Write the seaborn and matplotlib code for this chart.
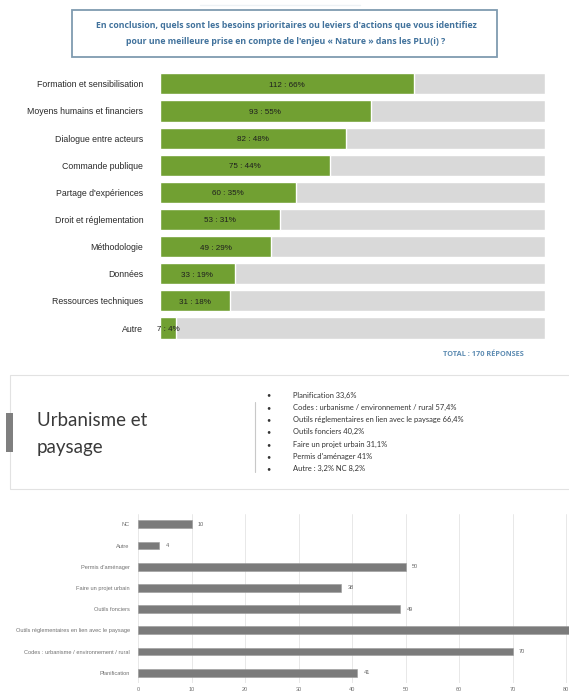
import matplotlib
matplotlib.use("Agg")
import matplotlib.pyplot as plt
from matplotlib.patches import Rectangle
import pandas as pd
import seaborn as sns

# ---- Data -------------------------------------------------------------
levers = ["Formation et sensibilisation", "Moyens humains et financiers",
          "Dialogue entre acteurs", "Commande publique",
          "Partage d'expériences", "Droit et réglementation",
          "Méthodologie", "Données", "Ressources techniques", "Autre"]
lever_counts = [112, 93, 82, 75, 60, 53, 49, 33, 31, 7]
total_responses = 170

tools = ["NC", "Autre", "Permis d'aménager", "Faire un projet urbain",
         "Outils fonciers", "Outils réglementaires en lien avec le paysage",
         "Codes : urbanisme / environnement / rural", "Planification"]
tool_counts = [10, 4, 50, 38, 49, 81, 70, 41]
tool_ticks = [0, 10, 20, 30, 40, 50, 60, 70, 80]

bullets = ["Planification 33,6%",
           "Codes : urbanisme / environnement / rural 57,4%",
           "Outils réglementaires en lien avec le paysage 66,4%",
           "Outils fonciers 40,2%",
           "Faire un projet urbain 31,1%",
           "Permis d'aménager 41%",
           "Autre : 3,2% NC 8,2%"]

question = ("En conclusion, quels sont les besoins prioritaires ou leviers d'actions que vous identifiez\n"
            "pour une meilleure prise en compte de l'enjeu « Nature » dans les PLU(i) ?")

# ---- Figure -----------------------------------------------------------
sns.set_theme(style="white")
plt.rcParams["font.family"] = ["Liberation Sans", "DejaVu Sans"]

W, H = 569, 693
fig = plt.figure(figsize=(W / 100, H / 100), dpi=100)
fig.patch.set_facecolor("white")


def fx(x):
    return x / W


def fy(y):
    return 1 - y / H


# overlay for boxes and free text, in pixel coordinates
over = fig.add_axes([0, 0, 1, 1], zorder=0)
over.set_xlim(0, W)
over.set_ylim(H, 0)
over.axis("off")

# question box
over.add_patch(Rectangle((72, 10), 425, 47, fill=False, ec="#7f9bb0", lw=1.3))
over.text(286, 33.5, question, ha="center", va="center", fontsize=6.3,
          fontweight="bold", color="#41729c", family=["Open Sans", "DejaVu Sans"],
          linespacing=1.9)
over.plot([200, 360], [5, 5], color="#eef2f5", lw=1)

over.text(483, 355, "TOTAL : 170 RÉPONSES", ha="center", va="center",
          fontsize=5.3, fontweight="bold", color="#5f8db3",
          family=["Open Sans", "DejaVu Sans"])

# slide card
over.add_patch(Rectangle((10, 375), 580, 114, fill=True, fc="white",
                         ec="#e2e2e2", lw=0.8))
over.add_patch(Rectangle((6, 413), 7, 39, color="#7f7f7f", lw=0))
over.text(37, 420, "Urbanisme et", ha="left", va="center", fontsize=13.5,
          color="#3a3a3a", family=["Lato", "DejaVu Sans"])
over.text(37, 448, "paysage", ha="left", va="center", fontsize=13.5,
          color="#3a3a3a", family=["Lato", "DejaVu Sans"])
over.plot([255, 255], [402, 472], color="#c8c8c8", lw=0.8)
for i, b in enumerate(bullets):
    yy = 395 + i * 12.3
    over.text(266, yy, "•", ha="left", va="center", fontsize=5.2,
              color="#333333", family=["Lato", "DejaVu Sans"])
    over.text(293, yy, b, ha="left", va="center", fontsize=5.4,
              color="#333333", family=["Lato", "DejaVu Sans"])

# ---- Top chart: levers -----------------------------------------------
top = pd.DataFrame({"levier": levers, "n": lever_counts,
                    "total": [total_responses] * len(levers)})
top_px = (160, 70.3, 545, 341.6)
ax1 = fig.add_axes([fx(top_px[0]), fy(top_px[3]),
                    fx(top_px[2] - top_px[0]), (top_px[3] - top_px[1]) / H],
                   zorder=2)
sns.barplot(data=top, x="total", y="levier", orient="h", color="#d9d9d9",
            width=0.78, ax=ax1, saturation=1)
sns.barplot(data=top, x="n", y="levier", orient="h", color="#71a032",
            width=0.78, ax=ax1, saturation=1)
ax1.set_xlim(0, total_responses)
ax1.set_ylim(len(levers) - 0.5, -0.5)
for i, n in enumerate(lever_counts):
    pct = round(n / total_responses * 100)
    ax1.text(n / 2, i + 0.05, f"{n} : {pct}%", ha="center", va="center",
             fontsize=5.8, color="#1e1e1e")
ax1.set_xlabel("")
ax1.set_ylabel("")
ax1.set_xticks([])
ax1.tick_params(axis="y", length=0, pad=12, labelsize=6.3, labelcolor="#2a2a2a")
for s in ax1.spines.values():
    s.set_visible(False)
ax1.patch.set_alpha(0)

# ---- Bottom chart: tools ---------------------------------------------
bot = pd.DataFrame({"outil": tools, "n": tool_counts})
x0, x80 = 138, 566
per_unit = (x80 - x0) / 80
bot_px = (138, 513.7, 569, 683.3)
ax2 = fig.add_axes([fx(bot_px[0]), fy(bot_px[3]),
                    fx(bot_px[2] - bot_px[0]), (bot_px[3] - bot_px[1]) / H],
                   zorder=2)
sns.barplot(data=bot, x="n", y="outil", orient="h", color="#7b7b7b",
            width=0.36, ax=ax2, saturation=1, edgecolor="#9a9a9a", linewidth=0.4)
xmax = (bot_px[2] - x0) / per_unit
ax2.set_xlim(0, xmax)
ax2.set_ylim(len(tools) - 0.5, -0.5)
ax2.set_xticks(tool_ticks)
ax2.set_xticklabels([str(t) for t in tool_ticks])
ax2.grid(axis="x", color="#e4e4e4", lw=0.6)
ax2.set_axisbelow(True)
for i, n in enumerate(tool_counts):
    # values running past the visible range keep their bar but no label
    if n + 3 < xmax:
        ax2.text(n + 1.2, i, str(n), ha="left", va="center", fontsize=4.0,
                 color="#666666")
ax2.set_xlabel("")
ax2.set_ylabel("")
ax2.tick_params(axis="y", length=0, pad=6, labelsize=4.1, labelcolor="#707070")
ax2.tick_params(axis="x", length=0, pad=3, labelsize=4.0, labelcolor="#707070")
for s in ax2.spines.values():
    s.set_visible(False)
ax2.patch.set_alpha(0)

fig.savefig("out.png", dpi=100, facecolor="white")
